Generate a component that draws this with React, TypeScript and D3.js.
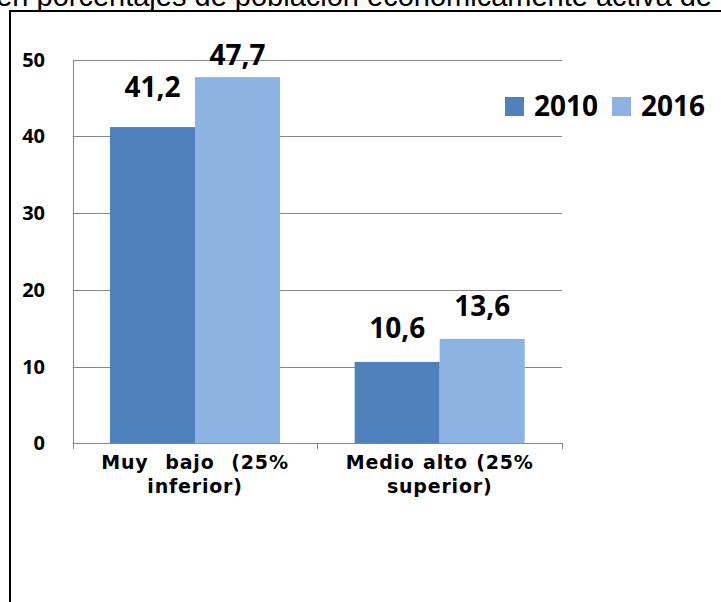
import React from "react";
import * as d3 from "d3";

const categories = ["Muy  bajo  (25%|inferior)", "Medio alto (25%|superior)"];
const seriesNames = ["2010", "2016"];
const values2010 = [41.2, 10.6];
const values2016 = [47.7, 13.6];
const yTicks = [0, 10, 20, 30, 40, 50];
const valueLabels2010 = ["41,2", "10,6"];
const valueLabels2016 = ["47,7", "13,6"];
const titleText = "en porcentajes de población económicamente activa de";

const colors = ["#4F81BD", "#8DB3E2"];
// label lift above bar top (px), per series per category
const lift = [
  [30, 24],
  [12, 23],
];

export default function App() {
  const W = 721;
  const H = 602;
  const left = 72.7;
  const right = 562;
  const y = d3.scaleLinear().domain([0, 50]).range([443.3, 59.5]);
  const x0 = d3.scaleBand<string>().domain(categories).range([left, right]).padding(0);
  const x1 = d3
    .scaleBand<string>()
    .domain(seriesNames)
    .range([0, x0.bandwidth()])
    .paddingInner(0)
    .paddingOuter(0.439);
  const series = [values2010, values2016];
  const labels = [valueLabels2010, valueLabels2016];
  const numFont = "'Open Sans', 'Noto Sans', sans-serif";
  const catFont = "'DejaVu Sans', sans-serif";
  const y0 = y(0);

  return (
    <svg
      width={W}
      height={H}
      style={{ position: "absolute", left: 0, top: 0, background: "#fff" }}
    >
      <rect x={0} y={0} width={W} height={H} fill="#fff" />
      <text
        x={712}
        y={6}
        textAnchor="end"
        fontFamily="'Liberation Sans', Arial, sans-serif"
        fontSize={29}
        fill="#000"
      >
        {titleText}
      </text>
      <rect x={10} y={11} width={900} height={800} fill="none" stroke="#000" strokeWidth={2} />

      {/* gridlines */}
      {yTicks.map((t) => (
        <line
          key={"g" + t}
          x1={left}
          x2={right}
          y1={Math.round(y(t)) + 0.5}
          y2={Math.round(y(t)) + 0.5}
          stroke="#868686"
          strokeWidth={1}
        />
      ))}
      {/* y axis line */}
      <line
        x1={Math.round(left) + 0.5}
        x2={Math.round(left) + 0.5}
        y1={Math.round(y(50)) + 0.5}
        y2={Math.round(y0) + 6}
        stroke="#868686"
      />
      {/* x ticks */}
      {[left, left + x0.step(), right].map((xx, i) => (
        <line
          key={"xt" + i}
          x1={Math.round(xx) + 0.5}
          x2={Math.round(xx) + 0.5}
          y1={Math.round(y0)}
          y2={Math.round(y0) + 6}
          stroke="#868686"
        />
      ))}

      {/* bars */}
      {categories.map((c, ci) =>
        seriesNames.map((s, si) => {
          const v = series[si][ci];
          const bx = (x0(c) ?? 0) + (x1(s) ?? 0);
          return (
            <rect
              key={c + s}
              x={bx}
              y={y(v)}
              width={x1.bandwidth()}
              height={y0 - y(v)}
              fill={colors[si]}
            />
          );
        })
      )}

      {/* value labels */}
      {categories.map((c, ci) =>
        seriesNames.map((s, si) => {
          const v = series[si][ci];
          const cx = (x0(c) ?? 0) + (x1(s) ?? 0) + x1.bandwidth() / 2;
          return (
            <text
              key={"l" + c + s}
              x={cx}
              y={y(v) - lift[si][ci]}
              textAnchor="middle"
              fontFamily={numFont}
              fontWeight="bold"
              fontSize={28}
              fill="#000"
            >
              {labels[si][ci]}
            </text>
          );
        })
      )}

      {/* y tick labels */}
      {yTicks.map((t) => (
        <text
          key={"yt" + t}
          x={45}
          y={y(t) + 7.1}
          textAnchor="end"
          fontFamily={numFont}
          fontWeight="bold"
          fontSize={20}
          fill="#000"
        >
          {t}
        </text>
      ))}

      {/* category labels */}
      {categories.map((c) => {
        const cx = (x0(c) ?? 0) + x0.bandwidth() / 2;
        const lines = c.split("|");
        return (
          <g key={"c" + c}>
            {lines.map((ln, li) => (
              <text
                key={li}
                x={cx}
                y={469 + li * 24}
                textAnchor="middle"
                fontFamily={catFont}
                fontWeight="bold"
                fontSize={19}
                letterSpacing={0.8}
                wordSpacing={1}
                fill="#000"
                style={{ whiteSpace: "pre" }}
              >
                {ln}
              </text>
            ))}
          </g>
        );
      })}

      {/* legend */}
      {seriesNames.map((s, si) => (
        <g key={"lg" + s} transform={`translate(${505 + si * 107},97)`}>
          <rect x={0} y={0} width={19} height={19} fill={colors[si]} />
          <text
            x={29}
            y={19}
            fontFamily={numFont}
            fontWeight="bold"
            fontSize={28}
            fill="#000"
          >
            {s}
          </text>
        </g>
      ))}
    </svg>
  );
}
